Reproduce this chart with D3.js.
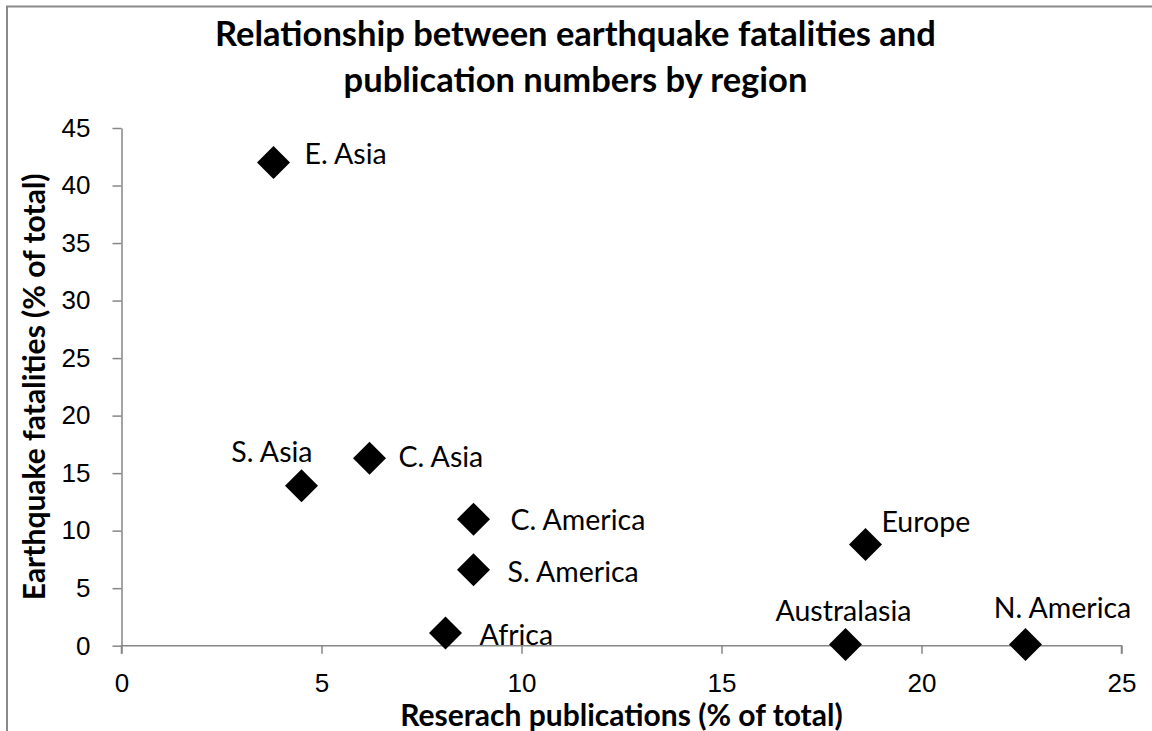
<!DOCTYPE html>
<html lang="en">
    <head>
        <meta charset="utf-8">
        <title>Earthquake fatalities vs publications</title>
        <script src="https://d3js.org/d3.v7.min.js"></script>
        <style>
            body {
                margin: 0;
                background-color: #FFFFFF;
            }
            svg {
                display: block;
                font-family: Lato, "Open Sans", sans-serif;
            }
            .axis path, .axis line {
                stroke: #868686;
                stroke-width: 1.5;
            }
            .axis text {
                font-size: 26px;
                fill: #000;
            }
        </style>
    </head>
    <body>
        <svg id="chart"></svg>

        <script>
            //data
            const regions = ["E. Asia", "S. Asia", "C. Asia", "C. America", "S. America", "Africa", "Europe", "Australasia", "N. America"];
            const publications = [3.8, 4.5, 6.2, 8.8, 8.8, 8.1, 18.6, 18.1, 22.6];
            const fatalities = [42.0, 13.9, 16.3, 11.0, 6.6, 1.1, 8.8, 0.1, 0.1];
            const xTicks = [0, 5, 10, 15, 20, 25];
            const yTicks = [0, 5, 10, 15, 20, 25, 30, 35, 40, 45];

            //where each data label sits relative to its marker
            const labelPos = {
                "E. Asia":     { dx: 31, dy: 1, anchor: "start" },
                "S. Asia":     { dx: 11, dy: -24, anchor: "end" },
                "C. Asia":     { dx: 29, dy: 9, anchor: "start" },
                "C. America":  { dx: 37, dy: 11, anchor: "start" },
                "S. America":  { dx: 34, dy: 12, anchor: "start" },
                "Africa":      { dx: 34, dy: 12, anchor: "start" },
                "Europe":      { dx: 16, dy: -12, anchor: "start" },
                "Australasia": { dx: -2, dy: -24, anchor: "middle" },
                "N. America":  { dx: 37, dy: -27, anchor: "middle" }
            };

            const points = regions.map((r, i) => ({ name: r, x: publications[i], y: fatalities[i] }));

            const W = 1152, H = 731;
            const plot = { left: 121.5, right: 1121.5, top: 128, bottom: 645.7 };

            const svg = d3.select("#chart")
                .attr("width", W)
                .attr("height", H);

            //chart area border (runs past right/bottom edge like the source)
            svg.append("rect")
                .attr("x", 7)
                .attr("y", 6.5)
                .attr("width", W + 20)
                .attr("height", H + 20)
                .attr("fill", "#fff")
                .attr("stroke", "#8a8a8a")
                .attr("stroke-width", 2);

            //scales
            const xScale = d3.scaleLinear().domain([0, 25]).range([plot.left, plot.right]);
            const yScale = d3.scaleLinear().domain([0, 45]).range([plot.bottom, plot.top]);

            //axes
            svg.append("g")
                .attr("class", "axis")
                .attr("transform", `translate(0, ${plot.bottom})`)
                .call(d3.axisBottom(xScale).tickValues(xTicks).tickSize(8).tickPadding(20).tickSizeOuter(0))
                .call(g => g.select(".domain").attr("d", `M${plot.left},8V0H${plot.right}V8`));

            svg.append("g")
                .attr("class", "axis")
                .attr("transform", `translate(${plot.left}, 0)`)
                .call(d3.axisLeft(yScale).tickValues(yTicks).tickSize(9).tickPadding(22).tickSizeOuter(0));

            //title
            const title = svg.append("text")
                .attr("text-anchor", "middle")
                .attr("font-size", 34.5)
                .attr("font-weight", "bold");
            title.append("tspan").attr("x", 575.5).attr("y", 46).text("Relationship between earthquake fatalities and");
            title.append("tspan").attr("x", 575.5).attr("y", 92).text("publication numbers by region");

            //axis titles
            svg.append("text")
                .attr("x", (plot.left + plot.right) / 2)
                .attr("y", 726)
                .attr("text-anchor", "middle")
                .attr("font-size", 30)
                .attr("font-weight", "bold")
                .text("Reserach publications (% of total)");

            svg.append("text")
                .attr("transform", `translate(45, ${(plot.top + plot.bottom) / 2}) rotate(-90)`)
                .attr("text-anchor", "middle")
                .attr("font-size", 30)
                .attr("font-weight", "bold")
                .text("Earthquake fatalities (% of total)");

            //markers
            const half = 16.5;
            svg.selectAll(".pt")
                .data(points)
                .enter()
                .append("path")
                .attr("class", "pt")
                .attr("d", `M0,${-half}L${half},0L0,${half}L${-half},0Z`)
                .attr("transform", d => `translate(${xScale(d.x)}, ${yScale(d.y)})`)
                .attr("fill", "#000");

            //data labels
            svg.selectAll(".lbl")
                .data(points)
                .enter()
                .append("text")
                .attr("class", "lbl")
                .attr("x", d => xScale(d.x) + labelPos[d.name].dx)
                .attr("y", d => yScale(d.y) + labelPos[d.name].dy)
                .attr("text-anchor", d => labelPos[d.name].anchor)
                .attr("font-size", 28.5)
                .text(d => d.name);
        </script>
    </body>
</html>
